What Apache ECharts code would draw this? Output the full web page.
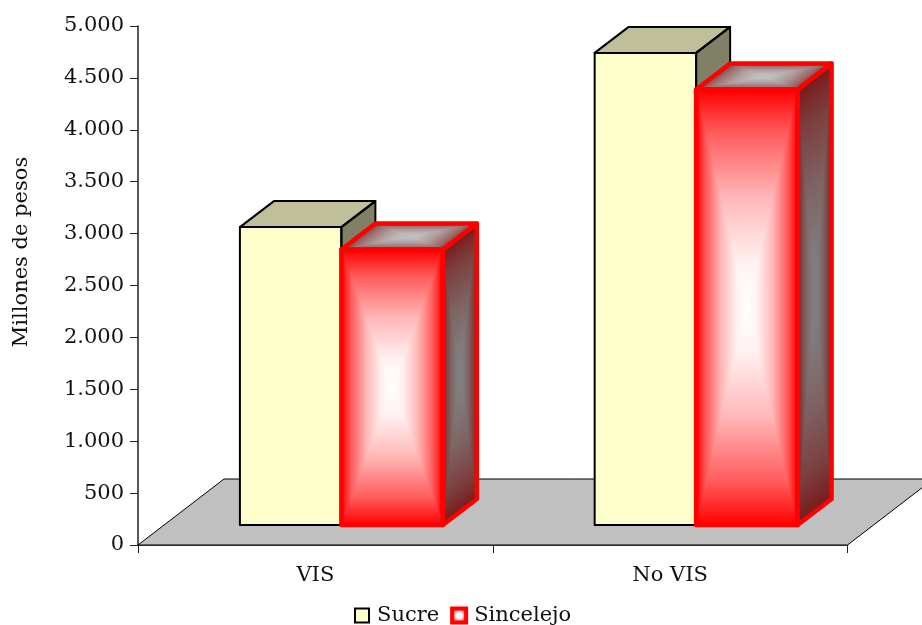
<!DOCTYPE html>
<html>
<head>
<meta charset="utf-8">
<style>
html, body { margin: 0; padding: 0; background: #fff; }
#chart { width: 922px; height: 625px; }
</style>
<script src="https://cdn.jsdelivr.net/npm/echarts@6/dist/echarts.min.js"></script>
</head>
<body>
<div id="chart"></div>
<script>
const categories = ['VIS', 'No VIS'];
const sucre = [2870, 4548];
const sincelejo = [2654, 4195];
const FONT = '"DejaVu Serif"';

// how the flat axes are pushed back to fake Excel's 3D look
const barShift = [26, -20];
const barDepth = [34, -26];
const floorDepth = [86, -66];
const barShare = 0.286;

const chart = echarts.init(document.getElementById('chart'));

function project(p, a, b) {
    const dx = b[0] - a[0], dy = b[1] - a[1];
    const t = ((p[0] - a[0]) * dx + (p[1] - a[1]) * dy) / (dx * dx + dy * dy);
    return [a[0] + t * dx, a[1] + t * dy];
}

function globalGradient(from, to, stops) {
    return { type: 'linear', global: true, x: from[0], y: from[1], x2: to[0], y2: to[1], colorStops: stops };
}

// leaves the edge colour fast, then settles slowly into the centre colour
function easedStops(edge, centre, mirror) {
    const steps = [[0, 0], [0.2, 0.36], [0.5, 0.72], [0.8, 0.95], [1, 1]];
    const stops = steps.map(function (s) {
        return { offset: mirror ? s[0] / 2 : s[0], color: echarts.color.lerp(s[1], [edge, centre]) };
    });
    if (mirror) {
        steps.slice(0, -1).reverse().forEach(function (s) {
            stops.push({ offset: 1 - s[0] / 2, color: echarts.color.lerp(s[1], [edge, centre]) });
        });
    }
    return stops;
}

// rectangular "from centre" gradient: corners go a (top left), b, c, d
function pathFace(a, b, c, d, edge, centre) {
    const mid = [(a[0] + c[0]) / 2, (a[1] + c[1]) / 2];
    const parts = [{
        type: 'polygon',
        shape: { points: [a, b, c, d] },
        style: { fill: globalGradient(project(mid, a, d), project(mid, b, c), easedStops(edge, centre, true)) }
    }];
    [[a, b], [d, c]].forEach(function (pair) {
        parts.push({
            type: 'polygon',
            shape: { points: [pair[0], pair[1], mid] },
            style: { fill: globalGradient(project(mid, pair[0], pair[1]), mid, easedStops(edge, centre, false)) }
        });
    });
    return parts;
}

function outline(points, color, width) {
    return {
        type: 'polygon',
        shape: { points: points },
        style: { fill: 'none', stroke: color, lineWidth: width, lineJoin: 'round' }
    };
}

function boxCorners(api, idx) {
    const top = api.coord([api.value(0), api.value(1)]);
    const base = api.coord([api.value(0), 0]);
    const w = api.size([1, 0])[0] * barShare;
    const x0 = top[0] + barShift[0] - w + idx * w;
    const x1 = x0 + w;
    const yt = top[1] + barShift[1];
    const yb = base[1] + barShift[1];
    const dx = barDepth[0], dy = barDepth[1];
    return {
        front: [[x0, yt], [x1, yt], [x1, yb], [x0, yb]],
        side: [[x1, yt], [x1 + dx, yt + dy], [x1 + dx, yb + dy], [x1, yb]],
        top: [[x0 + dx, yt + dy], [x1 + dx, yt + dy], [x1, yt], [x0, yt]]
    };
}

function renderSucre(params, api) {
    const box = boxCorners(api, 0);
    const stroke = '#000';
    return {
        type: 'group',
        children: [
            { type: 'polygon', shape: { points: box.top }, style: { fill: '#bfbf99' } },
            { type: 'polygon', shape: { points: box.side }, style: { fill: '#808066' } },
            { type: 'polygon', shape: { points: box.front }, style: { fill: '#ffffcc' } },
            outline(box.top, stroke, 2),
            outline(box.side, stroke, 2),
            outline(box.front, stroke, 2)
        ]
    };
}

function renderSincelejo(params, api) {
    const box = boxCorners(api, 1);
    const s = box.side, t = box.top, f = box.front;
    const faces = []
        .concat(pathFace(t[0], t[1], t[2], t[3], '#8a4040', '#c0c0c0'))
        .concat(pathFace(s[0], s[1], s[2], s[3], '#7a1a1a', '#808080'))
        .concat(pathFace(f[0], f[1], f[2], f[3], '#ff0000', '#ffffff'));
    return {
        type: 'group',
        children: faces.concat([
            outline(box.top, '#ff0000', 4.5),
            outline(box.side, '#ff0000', 4.5),
            outline(box.front, '#ff0000', 4.5)
        ])
    };
}

function renderFloor(params) {
    const g = params.coordSys;
    const y = g.y + g.height;
    const dx = floorDepth[0], dy = floorDepth[1];
    return {
        type: 'polygon',
        shape: { points: [[g.x, y], [g.x + g.width, y], [g.x + g.width + dx, y + dy], [g.x + dx, y + dy]] },
        style: { fill: '#c0c0c0', stroke: '#000', lineWidth: 1 }
    };
}

function rows(values) {
    return values.map(function (v, i) { return [i, v]; });
}

const sincelejoSwatch = {
    type: 'radial', x: 0.5, y: 0.5, r: 0.5,
    colorStops: [{ offset: 0, color: '#ffffff' }, { offset: 0.3, color: '#ffffff' }, { offset: 1, color: '#ff0000' }]
};

chart.setOption({
    animation: false,
    backgroundColor: '#fff',
    textStyle: { fontFamily: FONT },
    grid: { left: 138, top: 26, width: 709.5, height: 519 },
    legend: {
        left: 354,
        top: 605,
        padding: 0,
        itemWidth: 14,
        itemHeight: 14,
        itemGap: 11,
        textStyle: { fontFamily: FONT, fontSize: 21, color: '#111', padding: [0, 0, 4, 3] },
        data: [
            { name: 'Sucre', icon: 'rect', itemStyle: { color: '#ffffcc', borderColor: '#000', borderWidth: 2 } },
            { name: 'Sincelejo', icon: 'rect', itemStyle: { color: sincelejoSwatch, borderColor: '#ff0000', borderWidth: 4 } }
        ]
    },
    xAxis: {
        type: 'category',
        data: categories,
        axisLine: { lineStyle: { color: '#222', width: 1.5 } },
        axisTick: { show: true, alignWithLabel: false, length: 8, lineStyle: { color: '#222' } },
        axisLabel: { color: '#111', fontFamily: FONT, fontSize: 21, margin: 20 }
    },
    yAxis: {
        type: 'value',
        min: 0,
        max: 5000,
        interval: 500,
        splitLine: { show: false },
        axisLine: { show: true, lineStyle: { color: '#222', width: 1.5 } },
        axisTick: { show: true, length: 8, lineStyle: { color: '#222' } },
        axisLabel: {
            color: '#111',
            fontFamily: FONT,
            fontSize: 21,
            margin: 14,
            formatter: function (v) { return v >= 1000 ? String(v).replace(/(\d)(\d{3})$/, '$1.$2') : String(v); }
        }
    },
    graphic: [{
        type: 'text',
        x: 22,
        y: 252,
        rotation: Math.PI / 2,
        style: { text: 'Millones de pesos', font: '21px ' + FONT, fill: '#111', align: 'center', verticalAlign: 'middle' }
    }],
    series: [
        { type: 'custom', name: 'floor', data: [[0, 0]], renderItem: renderFloor, silent: true, z: 1 },
        {
            type: 'custom', name: 'Sucre', data: rows(sucre), renderItem: renderSucre, z: 2,
            encode: { x: 0, y: 1 }, itemStyle: { color: '#ffffcc' }
        },
        {
            type: 'custom', name: 'Sincelejo', data: rows(sincelejo), renderItem: renderSincelejo, z: 3,
            encode: { x: 0, y: 1 }, itemStyle: { color: '#ff0000' }
        }
    ]
});
</script>
</body>
</html>
